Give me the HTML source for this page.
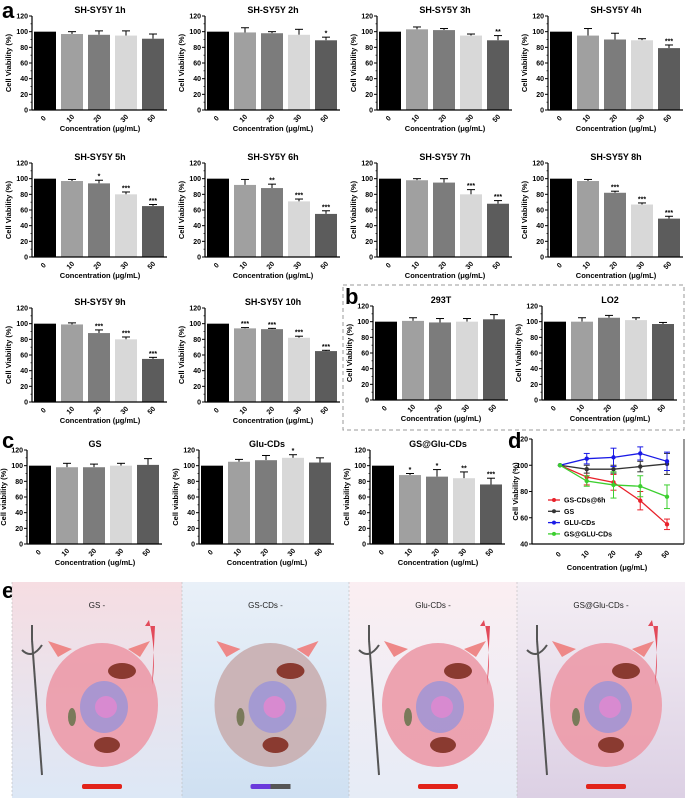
<!DOCTYPE html>
<html><head><meta charset="utf-8"><style>
html,body{margin:0;padding:0;background:#fff;}
svg{display:block;font-family:"Liberation Sans",Arial,sans-serif;}
</style></head><body>
<svg id="fig" width="685" height="798" viewBox="0 0 685 798" xmlns="http://www.w3.org/2000/svg">
<rect x="343" y="285" width="341" height="145" fill="none" stroke="#999" stroke-dasharray="4,3"/>
<text x="2" y="18" font-size="22" font-weight="bold">a</text>
<text x="345" y="304" font-size="22" font-weight="bold">b</text>
<text x="2" y="448" font-size="22" font-weight="bold">c</text>
<text x="508" y="448" font-size="22" font-weight="bold">d</text>
<text x="2" y="598" font-size="22" font-weight="bold">e</text>
<g id="panelE"></g>
</svg>
<script>
const categories = ["0","10","20","30","50"];
const yTicks = [0,20,40,60,80,100,120];
const barColors = ["#000","#a0a0a0","#7c7c7c","#d8d8d8","#5c5c5c"];

const v1h = [100,97,96,95,91];   const e1h = [0,3,5,6,6];   const s1h = ["","","","",""];
const v2h = [100,99,98,96,89];   const e2h = [0,6,2,7,4];   const s2h = ["","","","","*"];
const v3h = [100,103,102,95,89]; const e3h = [0,3,2,2,6];   const s3h = ["","","","","**"];
const v4h = [100,95,90,89,79];   const e4h = [0,9,8,2,4];   const s4h = ["","","","","***"];
const v5h = [100,97,94,80,65];   const e5h = [0,2,4,3,2];   const s5h = ["","","*","***","***"];
const v6h = [100,92,88,71,55];   const e6h = [0,7,5,3,4];   const s6h = ["","","**","***","***"];
const v7h = [100,98,95,80,68];   const e7h = [0,2,5,6,4];   const s7h = ["","","","***","***"];
const v8h = [100,97,82,67,49];   const e8h = [0,2,2,2,3];   const s8h = ["","","***","***","***"];
const v9h = [100,99,88,80,55];   const e9h = [0,2,4,3,2];   const s9h = ["","","***","***","***"];
const v10h = [100,94,93,82,65];  const e10h = [0,1,1,2,1];  const s10h = ["","***","***","***","***"];
const v293 = [100,101,99,100,103]; const e293 = [0,4,5,4,6]; const s293 = ["","","","",""];
const vLO2 = [100,100,105,102,97]; const eLO2 = [0,5,3,3,2]; const sLO2 = ["","","","",""];
const vGS = [100,98,98,100,101]; const eGS = [0,5,4,3,8]; const sGS = ["","","","",""];
const vGlu = [100,105,107,110,104]; const eGlu = [0,3,6,4,6]; const sGlu = ["","","","*",""];
const vGSGlu = [100,88,86,84,76]; const eGSGlu = [0,2,9,8,8]; const sGSGlu = ["","*","*","**","***"];

const lineRed = [100,91,87,73,55];   const errRed = [0,6,6,7,4];
const lineBlack = [100,97,97,99,101]; const errBlack = [0,3,3,4,8];
const lineBlue = [100,105,106,109,103]; const errBlue = [0,4,7,5,7];
const lineGreen = [100,88,85,84,76]; const errGreen = [0,4,10,8,9];
const lineNames = ["GS-CDs@6h","GS","GLU-CDs","GS@GLU-CDs"];
const dTicks = [40,60,80,100,120];

const NS = "http://www.w3.org/2000/svg";
const svg = document.getElementById("fig");
function mk(tag, attrs, parent, txt){
  const e = document.createElementNS(NS, tag);
  for (const k in attrs) e.setAttribute(k, attrs[k]);
  if (txt !== undefined) e.textContent = txt;
  (parent || svg).appendChild(e);
  return e;
}

function barPanel(ox, oy, title, vals, errs, sigs, ylab, xlab, key){
  const g = mk("g", {});
  
  
  const ax = ox + 32, top = oy + 16, bot = oy + 110;
  const y = v => bot - (v / 120) * (bot - top);
  const xb = i => ox + 34 + i * 27;
  const t = mk("text", {x: ox + 100, y: oy + 13, "font-size": 9, "font-weight": "bold", "text-anchor": "middle"}, g, title);
  
  
  const yl = mk("text", {x: 0, y: 0, "font-size": 7.5, "font-weight": "bold", "text-anchor": "middle", transform: `translate(${ox + 11},${(top + bot) / 2}) rotate(-90)`}, g, ylab);
  
  
  yTicks.forEach(tv => {
    mk("line", {x1: ax - 3, x2: ax, y1: y(tv), y2: y(tv), stroke: "#000", "stroke-width": 1}, g);
    const tl = mk("text", {x: ax - 4, y: y(tv) + 2.5, "font-size": 7, "font-weight": "bold", "text-anchor": "end"}, g, tv);
    
    
  });
  for (let tv = 10; tv < 120; tv += 20) mk("line", {x1: ax - 1.5, x2: ax, y1: y(tv), y2: y(tv), stroke: "#000", "stroke-width": 0.7}, g);
  vals.forEach((v, i) => {
    const x = xb(i);
    if (errs[i] > 0) {
      mk("line", {x1: x + 11, x2: x + 11, y1: y(v), y2: y(v + errs[i]), stroke: "#000", "stroke-width": 1}, g);
      mk("line", {x1: x + 7, x2: x + 15, y1: y(v + errs[i]), y2: y(v + errs[i]), stroke: "#000", "stroke-width": 1}, g);
    }
    const b = mk("rect", {x: x, y: y(v), width: 22, height: bot - y(v), fill: barColors[i]}, g);
    
    
    if (sigs[i]) {
      const s = mk("text", {x: x + 11, y: y(v + errs[i]) - 1.5, "font-size": 7, "font-weight": "bold", "text-anchor": "middle"}, g, sigs[i]);
      
      
    }
    const cl = mk("text", {x: 0, y: 0, "font-size": 7, "font-weight": "bold", "text-anchor": "middle", transform: `translate(${x + 11},${bot + 10}) rotate(-45)`}, g, categories[i]);
    
    
  });
  mk("line", {x1: ax, x2: ax, y1: top, y2: bot, stroke: "#000", "stroke-width": 1.2}, g);
  mk("line", {x1: ax, x2: ox + 167, y1: bot, y2: bot, stroke: "#000", "stroke-width": 1.2}, g);
  const xl = mk("text", {x: ox + 100, y: oy + 131, "font-size": 7.5, "font-weight": "bold", "text-anchor": "middle"}, g, xlab);
  
  
}
const YL = "Cell Viability (%)", XL = "Concentration (\u03bcg/mL)";
barPanel(0, 0, "SH-SY5Y 1h", v1h, e1h, s1h, YL, XL, "sy5y-1h");
barPanel(173, 0, "SH-SY5Y 2h", v2h, e2h, s2h, YL, XL, "sy5y-2h");
barPanel(345, 0, "SH-SY5Y 3h", v3h, e3h, s3h, YL, XL, "sy5y-3h");
barPanel(516, 0, "SH-SY5Y 4h", v4h, e4h, s4h, YL, XL, "sy5y-4h");
barPanel(0, 147, "SH-SY5Y 5h", v5h, e5h, s5h, YL, XL, "sy5y-5h");
barPanel(173, 147, "SH-SY5Y 6h", v6h, e6h, s6h, YL, XL, "sy5y-6h");
barPanel(345, 147, "SH-SY5Y 7h", v7h, e7h, s7h, YL, XL, "sy5y-7h");
barPanel(516, 147, "SH-SY5Y 8h", v8h, e8h, s8h, YL, XL, "sy5y-8h");
barPanel(0, 292, "SH-SY5Y 9h", v9h, e9h, s9h, YL, XL, "sy5y-9h");
barPanel(173, 292, "SH-SY5Y 10h", v10h, e10h, s10h, YL, XL, "sy5y-10h");
barPanel(341, 290, "293T", v293, e293, s293, YL, XL, "b-293t");
barPanel(510, 290, "LO2", vLO2, eLO2, sLO2, YL, XL, "b-lo2");
barPanel(-5, 434, "GS", vGS, eGS, sGS, "Cell viability (%)", "Concentration (ug/mL)", "c-gs");
barPanel(167, 434, "Glu-CDs", vGlu, eGlu, sGlu, "Cell viability (%)", "Concentration (ug/mL)", "c-glu-cds");
barPanel(338, 434, "GS@Glu-CDs", vGSGlu, eGSGlu, sGSGlu, "Cell viability (%)", "Concentration (ug/mL)", "c-gs-glu-cds");

// panel d
(function(){
  const g = mk("g", {});
  
  
  const ax = 532, top = 439, bot = 544;
  const y = v => bot - (v - 40) / 80 * (bot - top);
  const x = i => 560 + i * 26.75;
  dTicks.forEach(tv => {
    mk("line", {x1: ax - 3, x2: ax, y1: y(tv), y2: y(tv), stroke: "#000"}, g);
    const tl = mk("text", {x: ax - 4, y: y(tv) + 2.5, "font-size": 7, "font-weight": "bold", "text-anchor": "end"}, g, tv);
    
    
  });
  mk("line", {x1: ax, x2: ax, y1: top, y2: bot, stroke: "#000", "stroke-width": 1.2}, g);
  mk("line", {x1: ax, x2: 684, y1: bot, y2: bot, stroke: "#000", "stroke-width": 1.2}, g);
  mk("line", {x1: 684, x2: 684, y1: top, y2: bot, stroke: "#000", "stroke-width": 0.8}, g);
  const yl = mk("text", {x: 0, y: 0, "font-size": 7.5, "font-weight": "bold", "text-anchor": "middle", transform: `translate(${518},${(top + bot) / 2}) rotate(-90)`}, g, "Cell Viability (%)");
  
  
  categories.forEach((c, i) => {
    const cl = mk("text", {x: 0, y: 0, "font-size": 7, "font-weight": "bold", "text-anchor": "middle", transform: `translate(${x(i)},${bot + 12}) rotate(-45)`}, g, c);
    
    
  });
  const xl = mk("text", {x: 607, y: 570, "font-size": 7.5, "font-weight": "bold", "text-anchor": "middle"}, g, "Concentration (\u03bcg/mL)");
  
  
  const series = [[lineRed, errRed, "#e8212a"], [lineBlack, errBlack, "#333"], [lineBlue, errBlue, "#1a1ae6"], [lineGreen, errGreen, "#3ccf2f"]];
  series.forEach((s, k) => {
    const [vals, errs, col] = s;
    const p = mk("polyline", {points: vals.map((v, i) => x(i) + "," + y(v)).join(" "), fill: "none", stroke: col, "stroke-width": 1.3}, g);
    
    
    vals.forEach((v, i) => {
      if (errs[i] > 0) {
        mk("line", {x1: x(i), x2: x(i), y1: y(v - errs[i]), y2: y(v + errs[i]), stroke: col, "stroke-width": 1}, g);
        mk("line", {x1: x(i) - 3, x2: x(i) + 3, y1: y(v - errs[i]), y2: y(v - errs[i]), stroke: col}, g);
        mk("line", {x1: x(i) - 3, x2: x(i) + 3, y1: y(v + errs[i]), y2: y(v + errs[i]), stroke: col}, g);
      }
      const pt = mk("circle", {cx: x(i), cy: y(v), r: 2.2, fill: col}, g);
      
      
    });
    const ly = 500 + k * 11.3;
    mk("line", {x1: 548, x2: 560, y1: ly, y2: ly, stroke: col, "stroke-width": 1.3}, g);
    mk("circle", {cx: 554, cy: ly, r: 2, fill: col}, g);
    const lt = mk("text", {x: 564, y: ly + 2.5, "font-size": 7, "font-weight": "bold"}, g, lineNames[k]);
    
    
  });
})();

// panel e illustrations
(function(){
  const g = document.getElementById("panelE");
  const defs = mk("defs", {});
  const bgs = [["#f6dde2","#dde8f6"],["#e9f0f8","#cfe0f2"],["#fbeef2","#e6ecf6"],["#f4eef4","#dcd0e4"]];
  const titles = ["GS -", "GS-CDs -", "Glu-CDs -", "GS@Glu-CDs -"];
  const xs = [12, 182, 349, 517];
  bgs.forEach((c, i) => {
    const lg = mk("linearGradient", {id: "bg" + i, x1: 0, y1: 0, x2: 0, y2: 1}, defs);
    mk("stop", {offset: 0, "stop-color": c[0]}, lg);
    mk("stop", {offset: 1, "stop-color": c[1]}, lg);
  });
  xs.forEach((x0, i) => {
    const w = (i < 3 ? xs[i + 1] : 685) - x0;
    const p = mk("g", {}, g);
    
    
    mk("rect", {x: x0, y: 582, width: w, height: 216, fill: "url(#bg" + i + ")"}, p);
    mk("line", {x1: x0, x2: x0, y1: 582, y2: 798, stroke: "#bbb", "stroke-dasharray": "2,2", "stroke-width": 0.6}, p);
    const cx = x0 + w / 2 + 5, cy = 705;
    const cellCol = i === 1 ? "#c9aeb0" : "#ec9aa8";
    mk("path", {d: `M${cx - 44} ${cy - 48} l-10 -16 l24 8 z`, fill: "#e88"}, p);
    mk("path", {d: `M${cx + 38} ${cy - 48} l10 -16 l-22 8 z`, fill: "#e88"}, p);
    mk("ellipse", {cx: cx, cy: cy, rx: 56, ry: 62, fill: cellCol, opacity: 0.9}, p);
    mk("ellipse", {cx: cx + 2, cy: cy + 2, rx: 24, ry: 26, fill: "#9a93d8", opacity: 0.8}, p);
    mk("circle", {cx: cx + 4, cy: cy + 2, r: 11, fill: "#d88ad0"}, p);
    mk("ellipse", {cx: cx + 20, cy: cy - 34, rx: 14, ry: 8, fill: "#8a3a30"}, p);
    mk("ellipse", {cx: cx + 5, cy: cy + 40, rx: 13, ry: 8, fill: "#8a3a30"}, p);
    mk("ellipse", {cx: cx - 30, cy: cy + 12, rx: 4, ry: 9, fill: "#7a7a5a"}, p);
    if (i !== 1) {
      mk("line", {x1: x0 + 20, x2: x0 + 30, y1: 640, y2: 775, stroke: "#555", "stroke-width": 2}, p);
      mk("path", {d: `M${x0 + 10} 650 q10 10 20 -5 M${x0 + 20} 640 l0 -15`, stroke: "#555", "stroke-width": 2, fill: "none"}, p);
      mk("path", {d: `M${x0 + w - 30} ${cy - 20} q5 -30 -3 -65 l-4 6 l10 0 z`, fill: "#e24a5a"}, p);
    }
    const bar = mk("rect", {x: cx - 20, y: 784, width: 40, height: 5, rx: 2, fill: i === 1 ? "#6a3adc" : "#e2231a"}, p);
    
    
    if (i === 1) mk("rect", {x: cx, y: 784, width: 20, height: 5, fill: "#555"}, p);
    const t = mk("text", {x: x0 + w / 2, y: 608, "font-size": 8, "text-anchor": "middle", fill: "#222"}, p, titles[i]);
    
    
  });
})();
</script>
</body></html>
